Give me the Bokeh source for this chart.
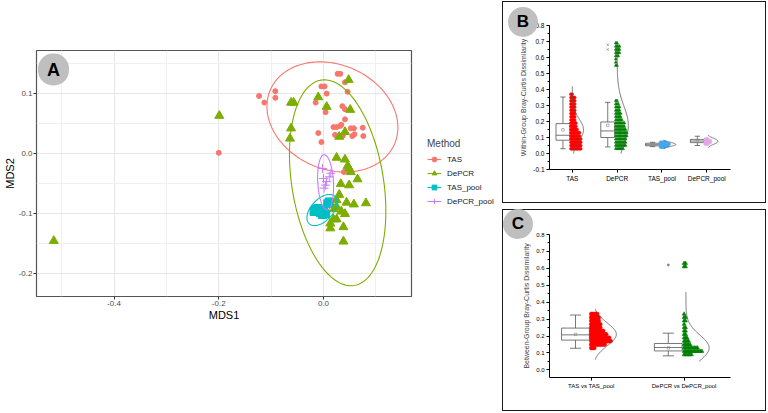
import numpy as np
from bokeh.plotting import figure
from bokeh.models import (Legend, LegendItem, Label, FixedTicker, Range1d, PrintfTickFormatter,
                          Div, GridBox)
from bokeh.layouts import row
from bokeh.embed import file_html
from bokeh.resources import INLINE

FONT = "Liberation Sans"

# ---------------- Panel A: MDS ordination ----------------
methods = ["TAS", "DePCR", "TAS_pool", "DePCR_pool"]
method_colors = ["#F8766D", "#7CAE00", "#00BFC4", "#C77CFF"]

tas_mds1 = [-0.200, -0.123, -0.113, -0.092, -0.092, -0.015, -0.004, 0.002, 0.006, 0.004,
            0.027, 0.032, 0.041, 0.046, 0.036, 0.041, 0.041, 0.034, 0.032, 0.019,
            0.025, 0.052, 0.058, 0.075, 0.076, 0.055, 0.059, 0.022, 0.037, -0.010,
            -0.004, 0.039]
tas_mds2 = [0.001, 0.096, 0.085, 0.104, 0.093, 0.085, 0.112, 0.112, 0.100, 0.069,
            0.133, 0.133, 0.119, 0.103, 0.079, 0.074, 0.057, 0.048, 0.046, 0.044,
            0.044, 0.042, 0.042, 0.043, 0.029, 0.029, 0.032, 0.031, 0.030, 0.034,
            0.019, -0.031]

depcr_mds1 = [-0.515, -0.199, 0.048, -0.062, -0.057, -0.010, 0.006, 0.051, -0.062, -0.064,
              0.041, 0.030, 0.025, 0.041, 0.046, 0.049, 0.052, 0.065, 0.033, 0.049,
              0.030, 0.025, 0.044, 0.058, 0.081, 0.025, 0.020, 0.034, 0.041, 0.025,
              0.019, 0.013, 0.013, 0.038, 0.038]
depcr_mds2 = [-0.146, 0.063, 0.123, 0.085, 0.085, 0.094, 0.078, 0.073, 0.042, 0.025,
              0.036, 0.028, -0.007, -0.010, -0.021, -0.025, -0.031, -0.043, -0.051, -0.053,
              -0.069, -0.078, -0.082, -0.085, -0.083, -0.089, -0.093, -0.097, -0.101, -0.110,
              -0.110, -0.117, -0.125, -0.123, -0.147]

taspool_mds1 = [0.011, 0.008, -0.015, -0.011, -0.006, -0.002, 0.004, 0.000, -0.018]
taspool_mds2 = [-0.081, -0.084, -0.094, -0.092, -0.099, -0.102, -0.101, -0.094, -0.097]

depcrpool_mds1 = [-0.002, 0.011, 0.004, 0.001, 0.014, 0.000, 0.006]
depcrpool_mds2 = [-0.025, -0.039, -0.053, -0.058, -0.033, -0.042, -0.047]

# confidence ellipses: centre, half extents, phase (deg)
ell_cx = [0.017, 0.027, -0.003, 0.004]
ell_cy = [0.061, -0.049, -0.0945, -0.048]
ell_ax = [0.125, 0.092, 0.0286, 0.0152]
ell_ay = [0.092, 0.172, 0.026, 0.046]
ell_phase = [101, 106, 60, 100]

# ---------------- Panel B: within-group dissimilarity ----------------
within_groups = ["TAS", "DePCR", "TAS_pool", "DePCR_pool"]
within_colors = ["#FF0000", "#008000", "#3FA9F5", "#E3A6E8"]
within_markers = ["circle", "triangle", "circle", "circle"]
within_whisker_lo = [0.030, 0.041, 0.043, 0.050]
within_q1 = [0.083, 0.100, 0.048, 0.068]
within_median = [0.114, 0.141, 0.055, 0.078]
within_q3 = [0.187, 0.197, 0.064, 0.088]
within_whisker_hi = [0.353, 0.320, 0.070, 0.108]
within_mean = [0.148, 0.176, 0.057, 0.076]
within_sd = [0.068, 0.120, 0.013, 0.019]
within_curve_lo = [0.00, 0.00, 0.030, 0.035]
within_curve_hi = [0.42, 0.70, 0.085, 0.115]
within_outliers_depcr = [0.650, 0.679]

tas_within_bins = [0.03, 0.05, 0.07, 0.09, 0.11, 0.13, 0.15, 0.17, 0.19, 0.21, 0.23, 0.25,
                   0.27, 0.29, 0.31, 0.33, 0.35, 0.37]
tas_within_counts = [9, 9, 9, 9, 8, 8, 6, 5, 5, 4, 4, 4, 4, 4, 4, 4, 4, 2]
depcr_within_bins = [0.03, 0.05, 0.07, 0.09, 0.11, 0.13, 0.15, 0.17, 0.19, 0.21, 0.23, 0.25,
                     0.27, 0.29, 0.31, 0.33, 0.55, 0.57, 0.59, 0.61, 0.63, 0.65, 0.67, 0.69]
depcr_within_counts = [7, 9, 9, 9, 10, 10, 9, 8, 8, 6, 5, 5, 4, 4, 3, 2, 2, 1, 1, 3, 4, 4, 4, 2]
taspool_within_bins = [0.04, 0.05, 0.06, 0.07]
taspool_within_counts = [4, 7, 8, 5]
depcrpool_within_bins = [0.06, 0.07, 0.08, 0.09]
depcrpool_within_counts = [3, 5, 5, 3]

# ---------------- Panel C: between-group dissimilarity ----------------
between_groups = ["TAS vs TAS_pool", "DePCR vs DePCR_pool"]
between_colors = ["#FF0000", "#008000"]
between_markers = ["circle", "triangle"]
between_whisker_lo = [0.128, 0.083]
between_q1 = [0.176, 0.112]
between_median = [0.207, 0.132]
between_q3 = [0.247, 0.156]
between_whisker_hi = [0.324, 0.217]
between_mean = [0.210, 0.130]
between_sd = [0.068, 0.075]
between_curve_lo = [0.06, 0.05]
between_curve_hi = [0.36, 0.46]
between_outliers_depcr = [0.62]

tas_between_bins = [0.13, 0.15, 0.17, 0.19, 0.21, 0.23, 0.25, 0.27, 0.29, 0.31, 0.33]
tas_between_counts = [3, 10, 14, 13, 11, 9, 7, 7, 6, 6, 5]
depcr_between_bins = [0.09, 0.11, 0.13, 0.15, 0.17, 0.19, 0.21, 0.23, 0.25, 0.27, 0.29,
                      0.31, 0.33, 0.61, 0.63]
depcr_between_counts = [6, 13, 10, 5, 4, 3, 2, 2, 2, 1, 2, 2, 1, 2, 2]


# ================= helpers =================
def cloud_points(cat, bins, counts, start, step):
    xs, ys = [], []
    for b, c in zip(bins, counts):
        for i in range(c):
            xs.append(cat + start + i * step)
            ys.append(b)
    return xs, ys


BADGE_STYLE = {"background-color": "#BFBFBF", "border-radius": "50%", "text-align": "center",
               "line-height": "30px", "font-family": FONT, "font-weight": "bold",
               "font-size": "17px", "color": "black"}


# ================= Panel A =================
pA = figure(width=415, height=410, x_range=Range1d(-0.548, 0.168), y_range=Range1d(-0.239, 0.172),
            output_backend="svg", toolbar_location=None,
            min_border_left=35, min_border_right=4, min_border_top=50, min_border_bottom=114)
pA.outline_line_color = "#555555"
pA.outline_line_width = 1.2
pA.xaxis.ticker = FixedTicker(ticks=[-0.4, -0.2, 0.0], minor_ticks=[-0.5, -0.3, -0.1, 0.1])
pA.yaxis.ticker = FixedTicker(ticks=[-0.2, -0.1, 0.0, 0.1], minor_ticks=[-0.15, -0.05, 0.05, 0.15])
for ax in (pA.xaxis[0], pA.yaxis[0]):
    ax.formatter = PrintfTickFormatter(format="%.1f")
    ax.axis_line_color = None
    ax.major_tick_line_color = "#333333"
    ax.major_tick_out = 3
    ax.major_tick_in = 0
    ax.minor_tick_line_color = None
    ax.major_label_text_font = FONT
    ax.major_label_text_font_size = "8px"
    ax.major_label_text_color = "#4D4D4D"
    ax.major_label_standoff = 0
    ax.axis_label_text_font = FONT
    ax.axis_label_text_font_size = "11px"
    ax.axis_label_text_font_style = "normal"
    ax.axis_label_text_color = "black"
    ax.axis_label_standoff = 0
pA.xaxis.axis_label = "MDS1"
pA.yaxis.axis_label = "MDS2"
pA.grid.grid_line_color = "#E6E6E6"
pA.grid.minor_grid_line_color = "#F0F0F0"

group_xy = [(tas_mds1, tas_mds2), (depcr_mds1, depcr_mds2),
            (taspool_mds1, taspool_mds2), (depcrpool_mds1, depcrpool_mds2)]
markers = ["circle", "triangle", "square", "cross"]
msizes = [5, 9, 8, 9]
t = np.linspace(0, 2 * np.pi, 200)


def draw_group(p, i, gx, gy, ex, ey):
    lr = p.line(ex, ey, line_color=method_colors[i], line_width=1.1)
    if markers[i] == "cross":
        sr = p.scatter(gx, gy, marker="cross", size=msizes[i], line_color=method_colors[i],
                       line_width=1, fill_color=None)
    else:
        sr = p.scatter(gx, gy, marker=markers[i], size=msizes[i], fill_color=method_colors[i],
                       line_color=method_colors[i])
    return lr, sr


for i, m in enumerate(methods):
    d = np.deg2rad(ell_phase[i])
    ex = ell_cx[i] + ell_ax[i] * np.cos(t)
    ey = ell_cy[i] + ell_ay[i] * np.cos(t - d)
    gx, gy = group_xy[i]
    draw_group(pA, i, gx, gy, ex, ey)

pA.add_layout(Label(x=17, y=227, x_units="screen", y_units="screen", text="A",
                    text_font=FONT, text_font_size="18px", text_font_style="bold",
                    text_color="black", text_align="center", text_baseline="middle",
                    background_fill_color="#BFBFBF", border_radius=15,
                    padding=dict(left=9, right=9, top=6, bottom=6)))

# legend of panel A, drawn in a narrow companion figure next to the panel
pLeg = figure(width=88, height=410, x_range=Range1d(0, 1), y_range=Range1d(0, 1),
              x_axis_type=None, y_axis_type=None, output_backend="svg", toolbar_location=None,
              min_border=0)
pLeg.outline_line_color = None
pLeg.grid.grid_line_color = None
items = []
key = np.array([np.nan])
for i, m in enumerate(methods):
    lr, sr = draw_group(pLeg, i, key, key, key, key)
    items.append(LegendItem(label=m, renderers=[lr, sr]))
legA = Legend(items=items, title="Method", location=(12, 89),
              border_line_color=None, background_fill_alpha=0,
              title_text_font=FONT, title_text_font_size="10px", title_text_font_style="normal",
              label_text_font=FONT, label_text_font_size="8px", label_text_color="#222222",
              glyph_width=14, glyph_height=12, label_height=12, spacing=2,
              padding=4, margin=0, label_standoff=6, title_standoff=4)
pLeg.add_layout(legA)


# ================= Panel B / C common =================
def style_panel(p, yticks, yminor, cats, labels, ylabel, lab_size):
    p.outline_line_color = None
    p.grid.grid_line_color = None
    p.yaxis.ticker = FixedTicker(ticks=yticks, minor_ticks=yminor)
    p.yaxis.formatter = PrintfTickFormatter(format="%.1f")
    p.xaxis.ticker = FixedTicker(ticks=cats, minor_ticks=[])
    p.xaxis.major_label_overrides = {c: l for c, l in zip(cats, labels)}
    for ax in (p.xaxis[0], p.yaxis[0]):
        ax.axis_line_color = "black"
        ax.axis_line_width = 1
        ax.major_tick_line_color = "black"
        ax.minor_tick_line_color = "black"
        ax.major_tick_out = 3
        ax.major_tick_in = 0
        ax.minor_tick_out = 2
        ax.minor_tick_in = 0
        ax.major_label_text_font = FONT
        ax.major_label_text_font_size = lab_size
        ax.major_label_text_color = "black"
        ax.major_label_standoff = 2
        ax.axis_label_text_font = FONT
        ax.axis_label_text_font_size = "7px"
        ax.axis_label_text_font_style = "normal"
        ax.axis_label_standoff = 3
    p.xaxis.minor_tick_line_color = None
    p.yaxis.axis_label = ylabel


def draw_box(p, cat, off, width, cap, lo, q1, med, q3, hi, mean):
    c = cat + off
    p.segment([c, c], [lo, q3], [c, c], [q1, hi], line_color="#555555", line_width=0.8)
    p.segment([c - cap / 2, c - cap / 2], [lo, hi], [c + cap / 2, c + cap / 2], [lo, hi],
              line_color="#555555", line_width=0.8)
    p.quad(left=[c - width / 2], right=[c + width / 2], bottom=[q1], top=[q3],
           fill_color="white", line_color="#555555", line_width=0.8)
    p.segment([c - width / 2], [med], [c + width / 2], [med], line_color="#555555", line_width=0.8)
    p.scatter([c], [mean], marker="square", size=2.5, fill_color=None, line_color="#888888", line_width=0.6)


def draw_curve(p, cat, base, peak, mu, sd, lo, hi):
    yy = np.linspace(lo, hi, 120)
    xx = cat + base + peak * np.exp(-0.5 * ((yy - mu) / sd) ** 2)
    p.line(xx, yy, line_color="#555555", line_width=0.8)


PANEL_STYLE = {"outline": "1.5px solid #1a1a1a"}

# ================= Panel B =================
pB = figure(width=262, height=200, x_range=Range1d(0.49, 4.53), y_range=Range1d(-0.1, 0.8),
            output_backend="svg", toolbar_location=None,
            min_border_left=46, min_border_right=35, min_border_top=23, min_border_bottom=33,
            styles=PANEL_STYLE)
catsB = [1, 2, 3, 4]
style_panel(pB, [round(-0.1 + 0.1 * k, 1) for k in range(10)],
            [round(-0.05 + 0.1 * k, 2) for k in range(9)],
            catsB, within_groups, "Within-Group Bray-Curtis Dissimilarity", "6.5px")

clouds_B = [(tas_within_bins, tas_within_counts), (depcr_within_bins, depcr_within_counts),
            (taspool_within_bins, taspool_within_counts), (depcrpool_within_bins, depcrpool_within_counts)]
peaksB = [0.25, 0.25, 0.31, 0.25]
for i, cat in enumerate(catsB):
    draw_box(pB, cat, -0.21, 0.31, 0.12, within_whisker_lo[i], within_q1[i], within_median[i],
             within_q3[i], within_whisker_hi[i], within_mean[i])
    bx, by = cloud_points(cat, clouds_B[i][0], clouds_B[i][1], -0.03, 0.027)
    pB.scatter(bx, by, marker=within_markers[i], size=3, fill_color=within_colors[i],
               line_color=within_colors[i], line_width=0.5)
    draw_curve(pB, cat, 0.0, peaksB[i], within_mean[i], within_sd[i],
               within_curve_lo[i], within_curve_hi[i])
pB.scatter([2 - 0.21] * len(within_outliers_depcr), within_outliers_depcr, marker="x", size=3,
           line_color="#777777", line_width=0.7)

# ================= Panel C =================
pC = figure(width=262, height=200, x_range=Range1d(0.55, 2.5), y_range=Range1d(-0.045, 0.8),
            output_backend="svg", toolbar_location=None,
            min_border_left=46, min_border_right=33, min_border_top=24, min_border_bottom=33,
            styles=PANEL_STYLE)
catsC = [1, 2]
style_panel(pC, [round(0.1 * k, 1) for k in range(9)],
            [round(0.05 + 0.1 * k, 2) for k in range(8)],
            catsC, between_groups, "Between-Group Bray-Curtis Dissimilarity", "6px")
clouds_C = [(tas_between_bins, tas_between_counts), (depcr_between_bins, depcr_between_counts)]
for i, cat in enumerate(catsC):
    draw_box(pC, cat, -0.17, 0.30, 0.12, between_whisker_lo[i], between_q1[i], between_median[i],
             between_q3[i], between_whisker_hi[i], between_mean[i])
    bx, by = cloud_points(cat, clouds_C[i][0], clouds_C[i][1], 0.0, 0.016)
    pC.scatter(bx, by, marker=between_markers[i], size=4, fill_color=between_colors[i],
               line_color=between_colors[i], line_width=0.5)
    draw_curve(pC, cat, 0.02, 0.25, between_mean[i], between_sd[i],
               between_curve_lo[i], between_curve_hi[i])
pC.scatter([2 - 0.17] * len(between_outliers_depcr), between_outliers_depcr, marker="circle", size=2,
           fill_color="#888888", line_color="#888888")

# panel badges B and C, overlaid on the top-left corner of their panels
divB = Div(text="B", width=30, height=30, styles=BADGE_STYLE)
divC = Div(text="C", width=30, height=30, margin=(-1, 0, 0, 0), styles=BADGE_STYLE)

right = GridBox(children=[(pB, 0, 0), (divB, 0, 0), (pC, 1, 0), (divC, 1, 0)],
                spacing=8, margin=(2, 0, 0, 0))
layout = row(pA, pLeg, right, spacing=0)
open("out.html", "w").write(file_html(layout, INLINE))
